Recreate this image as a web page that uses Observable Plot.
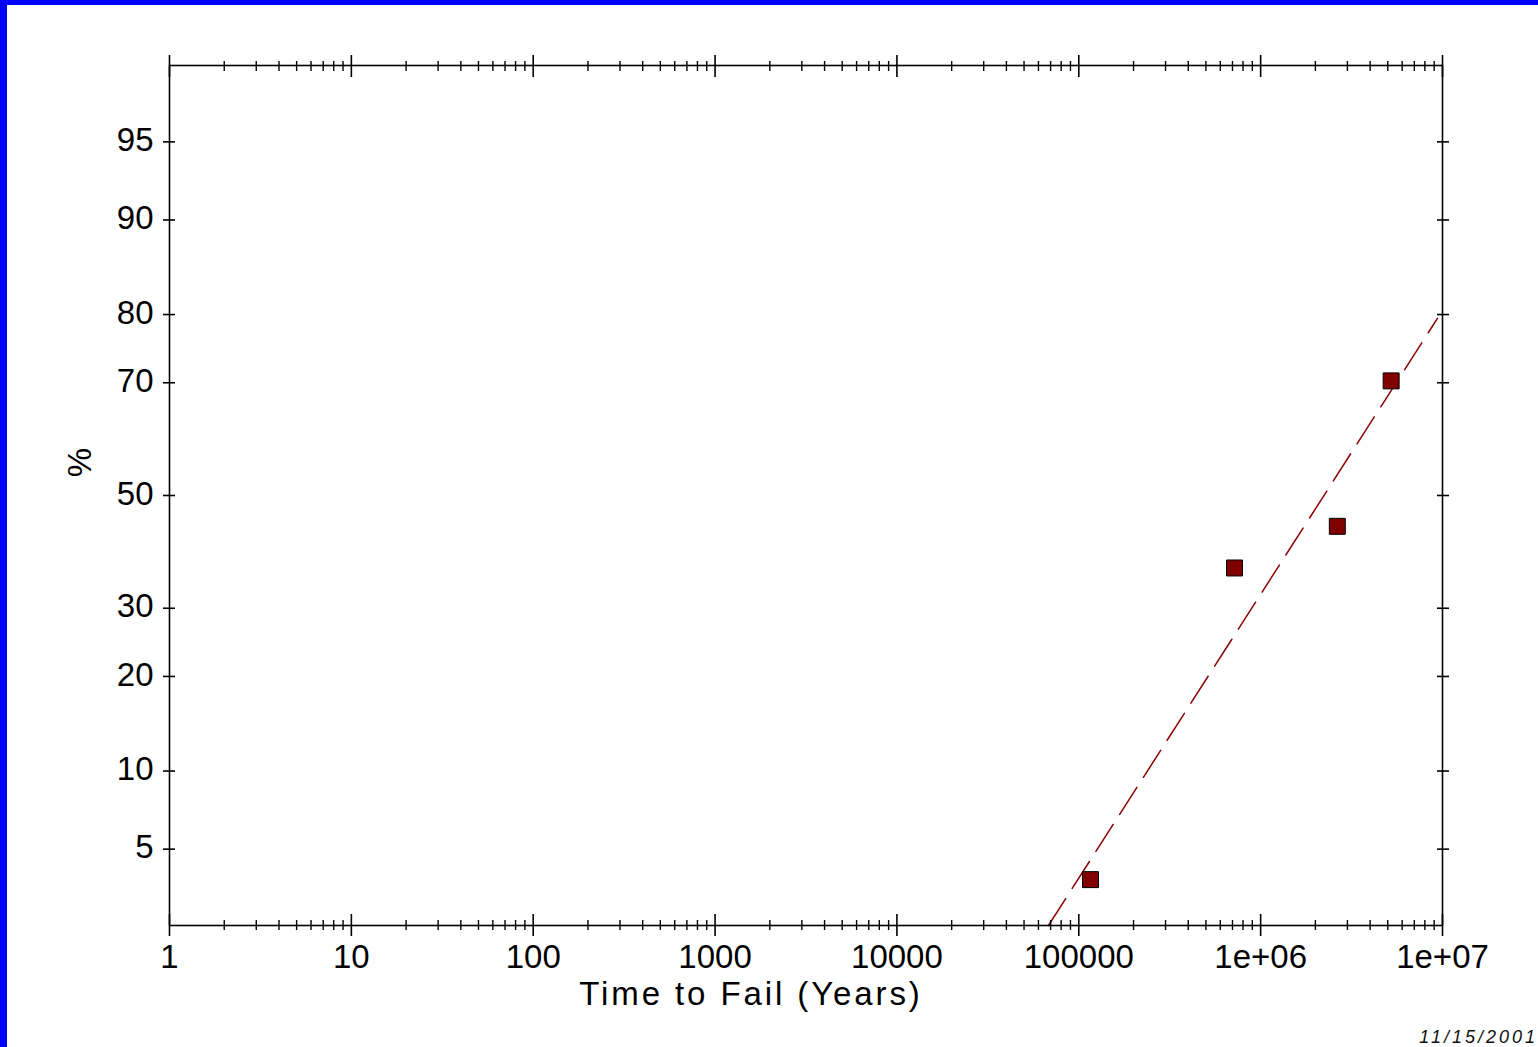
<!DOCTYPE html>
<html><head><meta charset="utf-8">
<script src="https://cdn.jsdelivr.net/npm/d3@7"></script>
<script src="https://cdn.jsdelivr.net/npm/@observablehq/plot@0.6"></script>
<style>
html,body{margin:0;padding:0;background:#fff;}
#wrap{position:relative;width:1538px;height:1047px;overflow:hidden;background:#fff;}
#chart{position:absolute;left:0;top:0;}
#bl{position:absolute;left:0;top:0;width:7px;height:1047px;background:#0000ff;}
#bt{position:absolute;left:0;top:0;width:1538px;height:5px;background:#0000ff;}
#date{position:absolute;right:0px;top:1027px;font:italic 18px "Liberation Sans",Arial,sans-serif;letter-spacing:3px;color:#111;}
g.xtitle text{letter-spacing:2.9px;}
</style></head><body>
<div id="wrap"><div id="chart"></div><div id="bl"></div><div id="bt"></div><div id="date">11/15/2001</div></div>
<script>
// Data
const timeYears = [1.16e5, 7.18e5, 2.64e6, 5.22e6];
const failPct   = [3.7, 36.8, 44.3, 70.3];
// Fitted (dashed) line end points
const fitTime = [6.81e4, 9.38e6];
const fitPct  = [2.275, 79.5];
// Axis ticks
const xMajor = [1, 10, 100, 1000, 1e4, 1e5, 1e6, 1e7];
const xTickLabels = ["1", "10", "100", "1000", "10000", "100000", "1e+06", "1e+07"];
const minorMultipliers = [2, 3, 4, 5, 6, 7, 8, 9];
const yTicks = [5, 10, 20, 30, 50, 70, 80, 90, 95];
const xTitle = "Time to Fail (Years)";
const yTitle = "%";

// inverse normal CDF (Acklam)
function probit(p) {
  const a = [-3.969683028665376e+01, 2.209460984245205e+02, -2.759285104469687e+02, 1.383577518672690e+02, -3.066479806614716e+01, 2.506628277459239e+00];
  const b = [-5.447609879822406e+01, 1.615858368580409e+02, -1.556989798598866e+02, 6.680131188771972e+01, -1.328068155288572e+01];
  const c = [-7.784894002430293e-03, -3.223964580411365e-01, -2.400758277161838e+00, -2.549732539343734e+00, 4.374664141464968e+00, 2.938163982698783e+00];
  const d = [7.784695709041462e-03, 3.224671290700398e-01, 2.445134137142996e+00, 3.754408661907416e+00];
  const pl = 0.02425, ph = 1 - pl;
  let q, r;
  if (p < pl) {
    q = Math.sqrt(-2 * Math.log(p));
    return (((((c[0]*q+c[1])*q+c[2])*q+c[3])*q+c[4])*q+c[5]) / ((((d[0]*q+d[1])*q+d[2])*q+d[3])*q+1);
  } else if (p <= ph) {
    q = p - 0.5; r = q*q;
    return (((((a[0]*r+a[1])*r+a[2])*r+a[3])*r+a[4])*r+a[5])*q / (((((b[0]*r+b[1])*r+b[2])*r+b[3])*r+b[4])*r+1);
  } else {
    q = Math.sqrt(-2 * Math.log(1 - p));
    return -(((((c[0]*q+c[1])*q+c[2])*q+c[3])*q+c[4])*q+c[5]) / ((((d[0]*q+d[1])*q+d[2])*q+d[3])*q+1);
  }
}
const z = p => probit(p / 100);

const points = timeYears.map((t, i) => ({t, p: failPct[i]}));
const fit = fitTime.map((t, i) => ({t, p: fitPct[i]}));
const xMinor = d3.range(0, 7).flatMap(e => minorMultipliers.map(m => m * Math.pow(10, e)));
const yTickZ = yTicks.map(z);
const yLabel = v => { const i = yTickZ.findIndex(t => Math.abs(t - v) < 1e-9); return i >= 0 ? String(yTicks[i]) : ""; };
const xLabel = v => { const i = xMajor.findIndex(t => Math.abs(t / v - 1) < 1e-9); return i >= 0 ? xTickLabels[i] : ""; };
const blank = () => "";
const FS = 33;

const chart = Plot.plot({
  width: 1538, height: 1047,
  marginLeft: 169, marginRight: 96, marginTop: 65, marginBottom: 122,
  style: {fontFamily: '"Liberation Sans", Arial, sans-serif', background: "transparent", color: "#000"},
  x: {type: "log", domain: [1, 1e7]},
  y: {type: "linear", domain: [-2, 2]},
  marks: [
    Plot.line(fit, {x: "t", y: d => z(d.p), stroke: "#8b0000", strokeWidth: 1.5, strokeDasharray: "32,12"}),
    Plot.dot(points, {x: "t", y: d => z(d.p), symbol: "square", r: 9, fill: "#800000", stroke: "#000", strokeWidth: 1}),
    Plot.frame({stroke: "#000", strokeWidth: 1.6}),
    // bottom ticks
    Plot.axisX(xMajor, {anchor: "bottom", tickSize: 22, dy: -11, tickFormat: blank, label: null, strokeWidth: 1.6}),
    Plot.axisX(xMinor, {anchor: "bottom", tickSize: 10, dy: -5, tickFormat: blank, label: null, strokeWidth: 1.4}),
    Plot.axisX(xMajor, {anchor: "bottom", tickSize: 0, tickPadding: 19, tickFormat: xLabel, label: null, fontSize: FS}),
    // top ticks
    Plot.axisX(xMajor, {anchor: "top", tickSize: 22, dy: 11, tickFormat: blank, label: null, strokeWidth: 1.6}),
    Plot.axisX(xMinor, {anchor: "top", tickSize: 10, dy: 5, tickFormat: blank, label: null, strokeWidth: 1.4}),
    // left / right ticks
    Plot.axisY(yTickZ, {anchor: "left", tickSize: 12, dx: 6, tickFormat: blank, label: null, strokeWidth: 1.6}),
    Plot.axisY(yTickZ, {anchor: "right", tickSize: 12, dx: -6, tickFormat: blank, label: null, strokeWidth: 1.6}),
    Plot.axisY(yTickZ, {anchor: "left", tickSize: 0, tickPadding: 16, dy: -1.5, tickFormat: yLabel, label: null, fontSize: FS}),
    // titles
    Plot.text([xTitle], {frameAnchor: "bottom", lineAnchor: "middle", textAnchor: "middle", dx: -55, dy: 69, fontSize: FS, className: "xtitle"}),
    Plot.text([yTitle], {frameAnchor: "left", lineAnchor: "middle", textAnchor: "middle", rotate: -90, dx: -89, dy: -33, fontSize: FS})
  ]
});
document.getElementById("chart").appendChild(chart);
</script>
</body></html>
